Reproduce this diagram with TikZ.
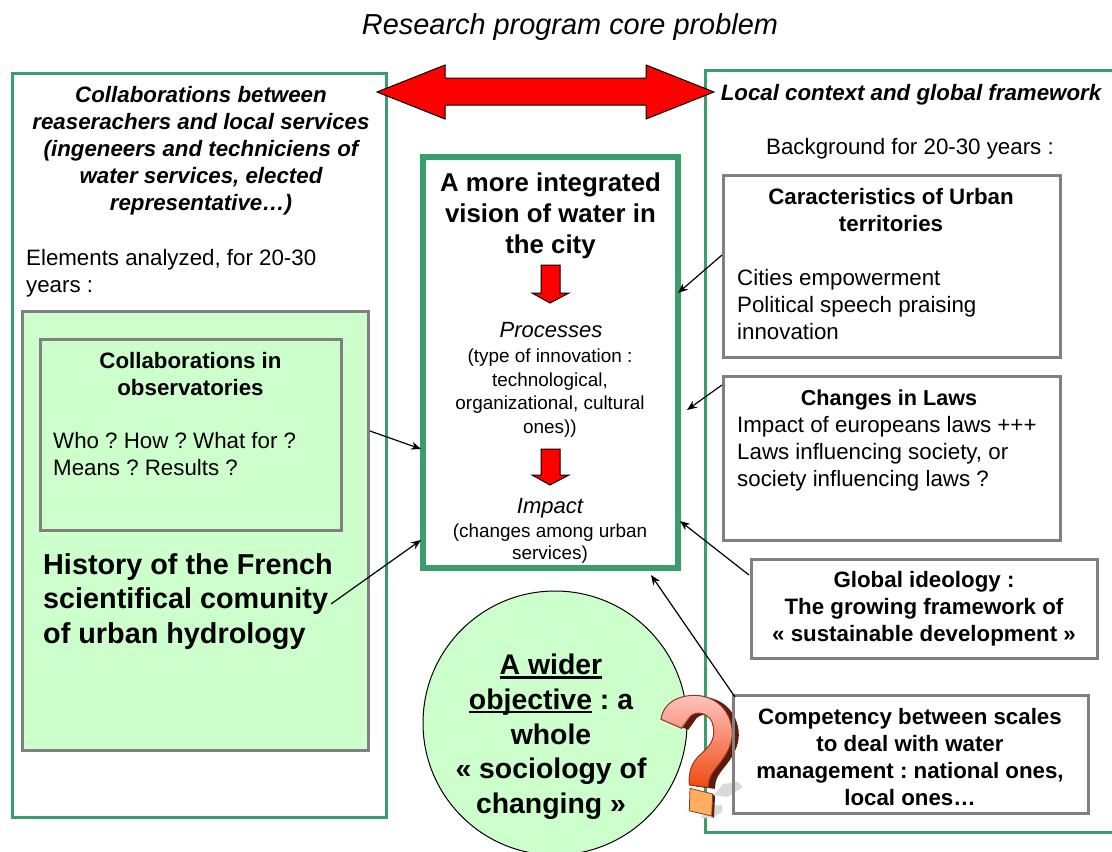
\documentclass[tikz,border=0pt]{standalone}
\usepackage{fontspec}
\setmainfont{Liberation Sans}
\usetikzlibrary{arrows.meta,shapes.geometric}
\definecolor{gr}{HTML}{3A9D6D}
\definecolor{gy}{HTML}{808080}
\definecolor{lg}{HTML}{CCFFCC}
\definecolor{qdark}{HTML}{5E1A0C}
\definecolor{qtop}{HTML}{FFC4C0}
\definecolor{qbot}{HTML}{F04A10}
\definecolor{qedge}{HTML}{8A3A20}
\definecolor{qblock}{HTML}{FFAE60}
\newcommand{\fs}[2]{\fontsize{#1}{#2}\selectfont\frenchspacing}
\newcommand{\thickul}[1]{\setbox0\hbox{#1}\rlap{\raisebox{-4pt}{\rule{\wd0}{2.6pt}}}\box0\relax}
\tikzset{x=1pt,y=-1pt,
 outerbox/.style={draw=gr,line width=3pt,inner sep=0,rectangle},
 graybox/.style={draw=gy,line width=3pt,inner sep=0,rectangle},
 txt/.style={inner sep=0,align=center,anchor=north},
 ltxt/.style={inner sep=0,align=left,anchor=north west},
 body/.style={font=\fs{22.3}{27}},
 bodyb/.style={font=\fs{22.3}{27}\bfseries},
 bodybi/.style={font=\fs{22.3}{27}\bfseries\itshape},
 small/.style={font=\fs{18.9}{23.5}},
 conn/.style={draw=black,line width=1.2pt,-{Stealth[length=10pt,width=8pt]}},
 redarrow/.style={fill=red,draw=black,line width=1pt},
 qshape/.pic={\path[pic actions] (661,719.3) .. controls (663.3,703.3) and (676.7,696) .. (693.3,695.3) .. controls (715,695) and (731.7,710) .. (732.3,733.3) .. controls (731.7,756.7) and (711.7,768.3) .. (709.3,780) -- (708.3,787.3) -- (689.3,785) .. controls (688.3,771.7) and (691.7,761.7) .. (701.7,753.3) .. controls (711,745) and (717,736.7) .. (712,722) .. controls (708,713.3) and (696.7,710) .. (690,716.7) -- (681.7,728.3) -- cycle;}}
\begin{document}
\begin{tikzpicture}
\useasboundingbox (0,0) rectangle (1112,852);
\fill[white] (0,0) rectangle (1112,852);
% outer frames
\node[outerbox,minimum width=374pt,minimum height=744pt] (leftframe) at (199,445) {};
\node[outerbox,minimum width=420pt,minimum height=762pt] (rightframe) at (915,451) {};
% title
\node[txt,font=\fs{28.9}{32}\itshape] (title) at (570,13) {Research program core problem};
% green panel
\node[graybox,fill=lg,minimum width=346pt,minimum height=439pt] (panel) at (195,530.5) {};
\node[graybox,minimum width=301pt,minimum height=191pt] (obs) at (190.5,434.5) {};
% centre
\node[draw=gr,line width=6pt,inner sep=0,minimum width=255pt,minimum height=411pt] (core) at (550.5,362.5) {};
% circle
\node[circle,draw=black,line width=1pt,fill=lg,inner sep=0,minimum size=264pt] (wider) at (555,723) {};
% question mark
\fill[gray!30] (714,795) -- (723,784) -- (738,782) -- (743,787) -- (727,797) -- cycle;
\fill[gray!30] (700,818) -- (712,806) -- (722,805) -- (722,812) -- (712,818) -- cycle;
\pic[fill=qdark,shift={(6.5,1.5)}] {qshape};
\pic[top color=qtop,middle color=red,bottom color=qbot,draw=qedge,line width=1pt] {qshape};
\path[fill=qdark] (712.7,794) -- (715,796) -- (714,818) -- (711.7,816) -- cycle;
\path[fill=qblock,draw=qedge,line width=.8pt] (690,788.3) -- (712.7,794) -- (711.7,816) -- (689.3,810.7) -- cycle;
% gray boxes
\node[graybox,minimum width=337pt,minimum height=182pt] (cara) at (891.5,266) {};
\node[graybox,minimum width=337pt,minimum height=164pt] (laws) at (891.5,458) {};
\node[graybox,fill=white,minimum width=346pt,minimum height=99pt] (ideo) at (924,608.5) {};
\node[graybox,minimum width=355pt,minimum height=118pt] (comp) at (910.5,754) {};
% red arrows
\path[redarrow] (377,92) -- (445,65) -- (445,78) -- (646,78) -- (646,65) -- (714,92) -- (646,119) -- (646,105) -- (445,105) -- (445,119) -- cycle;
\path[redarrow] (541,265) -- (560,265) -- (560,293) -- (569,293) -- (550,303) -- (532,293) -- (541,293) -- cycle;
\path[redarrow] (541,449) -- (560,449) -- (560,475) -- (569,475) -- (550,485) -- (532,475) -- (541,475) -- cycle;
% left texts
\node[txt,bodybi] (collab) at (201,86) {Collaborations between\\reaserachers and local services\\(ingeneers and techniciens of\\water services, elected\\representative…)};
\node[ltxt,body] (elem) at (26,249) {Elements analyzed, for 20-30\\years :};
\node[txt,bodyb] (obstitle) at (190.5,352) {Collaborations in\\observatories};
\node[ltxt,body] (obsbody) at (53,432) {Who ? How ? What for ?\\Means ? Results ?};
\node[ltxt,font=\fs{28.8}{34.5}\bfseries] (hist) at (43,553) {History of the French\\scientifical comunity\\of urban hydrology};
% centre texts
\node[txt,font=\fs{25.8}{31}\bfseries] (vision) at (550.5,173) {A more integrated\\vision of water in\\the city};
\node[txt,font=\fs{22}{25}\itshape] (proc) at (551,322.5) {Processes};
\node[txt,small] (procb) at (550,349) {(type of innovation :\\technological,\\organizational, cultural\\ones))};
\node[txt,font=\fs{22}{25}\itshape] (imp) at (550,498) {Impact};
\node[txt,font=\fs{18.9}{21.5}] (impb) at (550,524) {(changes among urban\\services)};
% circle text
\node[txt,font=\fs{28.4}{34.7}\bfseries] (widert) at (551,654) {\thickul{A wider}\\\thickul{objective} : a\\whole\\« sociology of\\changing »};
% right texts
\node[txt,bodybi] (local) at (911,84) {Local context and global framework};
\node[txt,body] (bg) at (910,138) {Background for 20-30 years :};
\node[txt,bodyb] (caratitle) at (891,188) {Caracteristics of Urban\\territories};
\node[ltxt,body] (carab) at (737,269) {Cities empowerment\\Political speech praising\\innovation};
\node[txt,font=\fs{21.6}{27}\bfseries] (lawst) at (889,390) {Changes in Laws};
\node[ltxt,body] (lawsb) at (737,416) {Impact of europeans laws +++\\Laws influencing society, or\\society influencing laws ?};
\node[txt,bodyb] (ideot) at (924,571) {Global ideology :\\The growing framework of\\« sustainable development »};
\node[txt,bodyb] (compt) at (910,708) {Competency between scales\\to deal with water\\management : national ones,\\local ones…};
% connectors
\coordinate (a1) at (678,293); \coordinate (a2) at (687,410); \coordinate (a3) at (680,521);
\coordinate (a4) at (651,575); \coordinate (a5) at (421,449); \coordinate (a6) at (421,540);
\coordinate (s1) at (722,255); \coordinate (s2) at (722,385); \coordinate (s3) at (749,575);
\coordinate (s4) at (735,697); \coordinate (s5) at (370,431); \coordinate (s6) at (331,604);
\draw[conn] (s1) -- (a1);
\draw[conn] (s2) -- (a2);
\draw[conn] (s3) -- (a3);
\draw[conn] (s4) -- (a4);
\draw[conn] (s5) -- (a5);
\draw[conn] (s6) -- (a6);
\end{tikzpicture}
\end{document}
